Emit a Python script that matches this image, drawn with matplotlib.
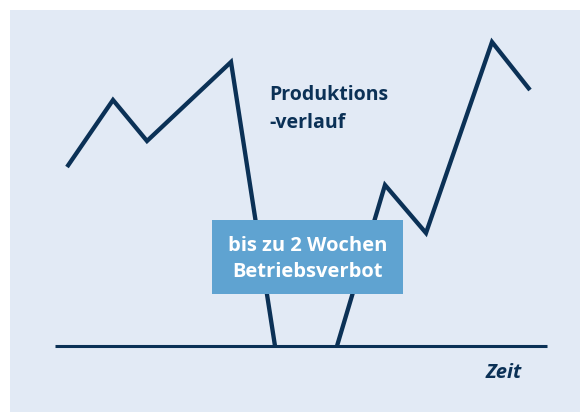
import matplotlib
matplotlib.use("Agg")
import matplotlib.pyplot as plt
from matplotlib.patches import Rectangle

# Data (time position, production level above baseline)
zeit = [67, 113, 147, 231, 275, 337, 385, 426, 492, 530]
produktion = [179, 246, 205, 284, 0, 0, 161, 113, 304, 256]
baseline_x = [55, 547]
label_line = "Produktions\n-verlauf"
label_box = "bis zu 2 Wochen\nBetriebsverbot"
label_axis = "Zeit"

NAVY = "#0b3156"
BG = "#e2eaf5"
BOX = "#5fa3d1"
FONT = ["Open Sans", "DejaVu Sans"]

fig = plt.figure(figsize=(5.8, 4.12), dpi=100)
fig.patch.set_facecolor("white")
ax = fig.add_axes([0, 0, 1, 1])
ax.set_xlim(0, 580)
ax.set_ylim(-66, 346)
ax.axis("off")

# background panel
ax.add_patch(Rectangle((10, -66), 575, 402, facecolor=BG, edgecolor="none", zorder=0))

ax.plot(baseline_x, [0, 0], color=NAVY, lw=2.2, solid_capstyle="butt", zorder=2)
# production course: falls to the baseline, runs along it, then rises again
ax.plot(zeit[:5], produktion[:5], color=NAVY, lw=3.1, solid_joinstyle="miter",
        solid_capstyle="butt", zorder=3)
ax.plot(zeit[5:], produktion[5:], color=NAVY, lw=3.1, solid_joinstyle="miter",
        solid_capstyle="butt", zorder=3)

ax.add_patch(Rectangle((212, 52), 191, 74, facecolor=BOX, edgecolor="none", zorder=4))
ax.text(307.5, 87, label_box, color="white", fontsize=14.5, fontweight="bold",
        family=FONT, ha="center", va="center", linespacing=1.4, zorder=5)

ax.text(269, 237, label_line, color=NAVY, fontsize=14, fontweight="bold",
        family=FONT, ha="left", va="center", linespacing=1.5, zorder=5)

ax.text(522, -27, label_axis, color=NAVY, fontsize=14.5, fontweight="bold",
        fontstyle="italic", family=FONT, ha="right", va="center", zorder=5)

fig.savefig("out.png", dpi=100, facecolor="white")
